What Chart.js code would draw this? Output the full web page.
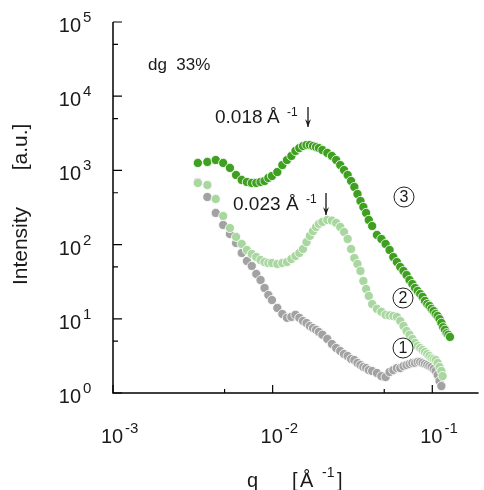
<!DOCTYPE html>
<html>
<head>
<meta charset="utf-8">
<script src="https://cdn.jsdelivr.net/npm/chart.js@4.4.0/dist/chart.umd.min.js"></script>
<style>
  html, body { margin: 0; padding: 0; background: #fff; }
</style>
</head>
<body>
<canvas id="chart" width="484" height="490"></canvas>
<script>
// q grid [1/Å] shared by the scans
const qBase = [
  0.0034, 0.0039, 0.0044, 0.0049, 0.0054, 0.0059, 0.0064, 0.0069, 0.0074, 0.0079, 0.0084, 0.0089, 0.0094, 0.0099,
  0.0107, 0.0115, 0.0123, 0.0131, 0.0139, 0.0147, 0.0155, 0.0163, 0.0171, 0.0179, 0.0187, 0.0195,
  0.0205, 0.022, 0.0235, 0.025, 0.0265, 0.028, 0.0295, 0.031, 0.0325, 0.034, 0.0355, 0.037, 0.0385, 0.04,
  0.042, 0.045, 0.048, 0.051, 0.054, 0.057, 0.06, 0.063, 0.066, 0.069, 0.072, 0.075, 0.078, 0.081, 0.084,
  0.087, 0.09, 0.093, 0.096, 0.099, 0.102, 0.105, 0.108, 0.111, 0.114
];

// scan 1 (grey)
const q1 = qBase;
const i1 = [
  698, 438, 267, 184, 139, 105, 77.1, 60.1, 51.5, 40.2, 33.3, 26.0, 20.9, 17.9,
  14.0, 11.6, 10.3, 10.6, 11.3, 10.3, 9.34, 8.78, 8.0, 7.52, 7.1, 6.64,
  6.1, 5.35, 4.57, 4.04, 3.68, 3.35, 3.15, 2.87, 2.78, 2.54, 2.38, 2.24, 2.17, 2.04,
  1.98, 1.86, 1.69, 1.64, 1.92, 2.04, 2.17, 2.17, 2.31, 2.38, 2.46, 2.54, 2.54, 2.62, 2.62,
  2.54, 2.46, 2.38, 2.31, 2.24, 2.11, 1.98, 1.75, 1.45, 1.24
];

// scan 2 (light green)
const q2 = qBase.concat([0.116]);
const i2 = [
  677, 636, 412, 243, 167, 127, 102, 84.5, 74.7, 68.1, 62.0, 58.2, 56.5, 56.5,
  54.8, 56.5, 58.2, 64.0, 70.2, 77.1, 87.3, 108, 131, 152, 173, 190,
  202, 215, 211, 196, 173, 148, 119, 87.3, 65.9, 54.8, 44.1, 32.3, 25.2, 20.3,
  15.8, 13.6, 12.4, 11.3, 11.1, 10.9, 10.6, 9.34, 8.0, 6.85, 6.1, 5.35, 4.72, 4.30, 4.04,
  3.80, 3.57, 3.35, 3.15, 2.96, 2.87, 2.78, 2.54, 2.24, 1.98,
  1.69
];

// scan 3 (dark green)
const q3 = qBase.concat([0.117, 0.12, 0.123, 0.126, 0.129]);
const i3 = [
  1260, 1300, 1380, 1260, 1080, 867, 743, 698, 677, 677, 698, 720, 791, 841,
  951, 1180, 1380, 1565, 1830, 2000, 2130, 2200, 2200, 2130, 2070, 2000,
  1880, 1720, 1565, 1380, 1180, 1010, 867, 720, 598, 481, 387, 321, 267, 215,
  178, 135, 119, 102, 84.5, 68, 58.2, 49.9, 44.1, 38.9, 33.3, 29.4, 26.0, 23.7, 21.6,
  19.7, 17.4, 15.8, 14.9, 13.6, 12.7, 11.6, 10.9, 9.9, 8.8,
  7.7, 7.1, 6.4, 6.1, 5.7
];

// tick labels
const xTicks = [0.001, 0.01, 0.1];
const xExp = ['-3', '-2', '-1'];
const xMinor = [0.005, 0.05];
const yTicks = [1, 10, 100, 1000, 10000, 100000];
const yExp = ['0', '1', '2', '3', '4', '5'];
const yMinor = [5, 50, 500, 5000, 50000];

const FONT = '"Liberation Sans", Arial, sans-serif';
const INK = '#1a1a1a';

const toPoints = (qs, is) => qs.map((q, k) => ({ x: q, y: is[k] }));

// Axes, ticks, labels and notes
const decorPlugin = {
  id: 'decor',
  afterDraw(chart) {
    const ctx = chart.ctx;
    const xs = chart.scales.x;
    const ys = chart.scales.y;
    const area = chart.chartArea;

    ctx.save();
    ctx.strokeStyle = '#000';
    ctx.lineWidth = 1.5;

    // axis lines
    ctx.beginPath();
    ctx.moveTo(area.left, area.top);
    ctx.lineTo(area.left, area.bottom);
    ctx.lineTo(area.right, area.bottom);
    ctx.stroke();

    // ticks (inward)
    ctx.lineWidth = 1.2;
    ctx.beginPath();
    yTicks.forEach(v => {
      const y = ys.getPixelForValue(v);
      ctx.moveTo(area.left, y); ctx.lineTo(area.left + 9, y);
    });
    yMinor.forEach(v => {
      const y = ys.getPixelForValue(v);
      ctx.moveTo(area.left, y); ctx.lineTo(area.left + 5, y);
    });
    xTicks.forEach(v => {
      const x = xs.getPixelForValue(v);
      ctx.moveTo(x, area.bottom); ctx.lineTo(x, area.bottom - 8);
    });
    xMinor.forEach(v => {
      const x = xs.getPixelForValue(v);
      ctx.moveTo(x, area.bottom); ctx.lineTo(x, area.bottom - 4);
    });
    ctx.stroke();

    ctx.fillStyle = INK;
    ctx.textBaseline = 'alphabetic';

    // y tick labels
    yTicks.forEach((v, k) => {
      const y = ys.getPixelForValue(v);
      ctx.font = '20px ' + FONT;
      ctx.textAlign = 'right';
      ctx.fillText('10', 81, y + 10);
      ctx.font = '15px ' + FONT;
      ctx.textAlign = 'left';
      ctx.fillText(yExp[k], 83, y);
    });

    // x tick labels
    xTicks.forEach((v, k) => {
      const x = xs.getPixelForValue(v) - 1;
      ctx.font = '20px ' + FONT;
      ctx.textAlign = 'center';
      ctx.fillText('10', x, 443);
      const w = ctx.measureText('10').width;
      ctx.font = '15px ' + FONT;
      ctx.textAlign = 'left';
      ctx.fillText(xExp[k], x + w / 2 + 2, 433);
    });

    // axis titles
    ctx.font = '20px ' + FONT;
    ctx.textAlign = 'left';
    ctx.fillText('q', 247, 487);
    ctx.fillText('[', 292, 487);
    ctx.fillText('Å', 300, 487);
    ctx.fillText(']', 337, 487);
    ctx.font = '14px ' + FONT;
    ctx.fillText('-1', 322, 477);

    ctx.save();
    ctx.translate(27, 0);
    ctx.rotate(-Math.PI / 2);
    ctx.font = '21px ' + FONT;
    ctx.textAlign = 'center';
    ctx.fillText('Intensity', -246, 0);
    ctx.fillText('[a.u.]', -147, 0);
    ctx.restore();

    // sample note
    ctx.font = '17px ' + FONT;
    ctx.textAlign = 'left';
    ctx.fillText('dg  33%', 148, 70);

    // peak positions with arrows
    const peakNote = (txt, x, base, ax, ay0, ay1, aX) => {
      ctx.font = '19px ' + FONT;
      ctx.fillText(txt, x, base);
      ctx.fillText('Å', ax, base);
      ctx.font = '12px ' + FONT;
      ctx.fillText('-1', ax + 20, base - 7);
      ctx.strokeStyle = '#000';
      ctx.lineWidth = 1.2;
      ctx.beginPath();
      ctx.moveTo(aX, ay0); ctx.lineTo(aX, ay1);
      ctx.stroke();
      ctx.beginPath();
      ctx.moveTo(aX - 3, ay1 - 8); ctx.lineTo(aX, ay1); ctx.lineTo(aX + 3, ay1 - 8);
      ctx.lineTo(aX, ay1 - 5); ctx.closePath();
      ctx.fill();
    };
    peakNote('0.018', 215, 123, 267, 107, 127, 308);
    peakNote('0.023', 233, 210, 286, 193, 215, 326);

    // circled scan numbers
    const circled = (n, cx, cy) => {
      ctx.beginPath();
      ctx.arc(cx, cy, 10, 0, Math.PI * 2);
      ctx.lineWidth = 1;
      ctx.strokeStyle = '#222';
      ctx.stroke();
      ctx.font = '16px ' + FONT;
      ctx.textAlign = 'center';
      ctx.textBaseline = 'middle';
      ctx.fillText(n, cx, cy + 1);
      ctx.textBaseline = 'alphabetic';
    };
    circled('3', 404, 197);
    circled('2', 403, 298);
    circled('1', 403, 348);

    ctx.restore();
  }
};

new Chart(document.getElementById('chart').getContext('2d'), {
  type: 'scatter',
  data: {
    datasets: [
      { label: '3', data: toPoints(q3, i3), backgroundColor: '#3f9f20', order: 1 },
      { label: '2', data: toPoints(q2, i2), backgroundColor: '#a9d7a0', order: 2 },
      { label: '1', data: toPoints(q1, i1), backgroundColor: '#a2a2a2', order: 3 }
    ]
  },
  options: {
    responsive: false,
    animation: false,
    devicePixelRatio: 1,
    layout: { padding: { top: 22, right: 0, left: 0, bottom: 0 } },
    plugins: { legend: { display: false }, tooltip: { enabled: false } },
    elements: { point: { radius: 4.6, borderColor: '#ffffff', borderWidth: 0.8 } },
    scales: {
      x: {
        type: 'logarithmic', min: 0.001, max: 0.195,
        grid: { display: false }, border: { display: false }, ticks: { display: false },
        afterFit: s => { s.height = 97; }
      },
      y: {
        type: 'logarithmic', min: 1, max: 100000,
        grid: { display: false }, border: { display: false }, ticks: { display: false },
        afterFit: s => { s.width = 113; }
      }
    }
  },
  plugins: [decorPlugin]
});
</script>
</body>
</html>
